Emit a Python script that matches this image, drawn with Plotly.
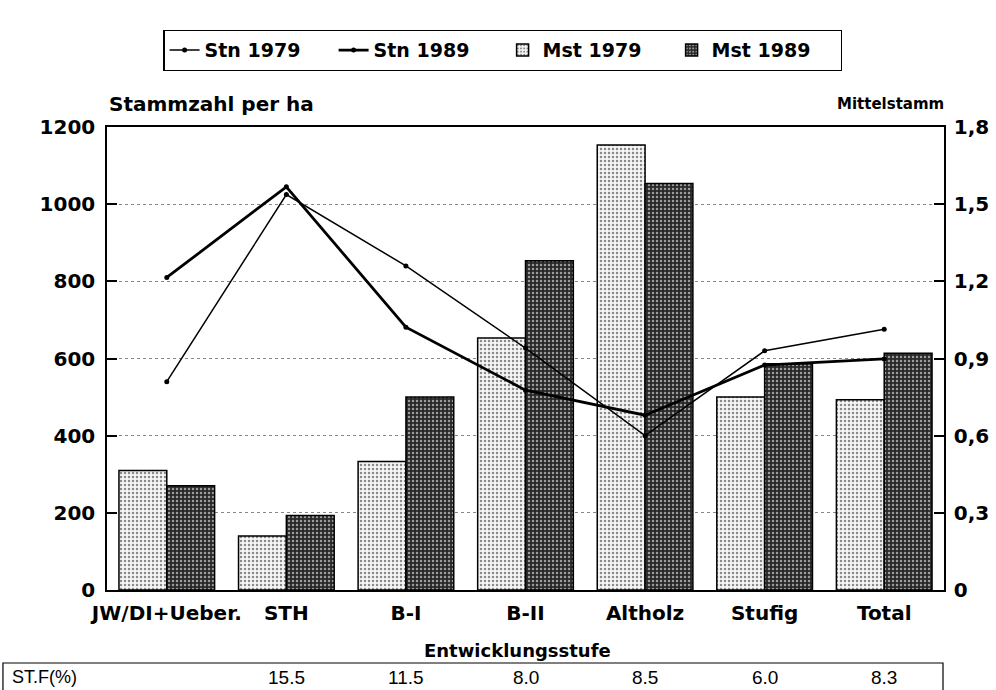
import plotly.graph_objects as go

categories = ["JW/DI+Ueber.", "STH", "B-I", "B-II", "Altholz", "Stufig", "Total"]
stn_1979 = [540, 1025, 840, 627, 400, 620, 676]
stn_1989 = [810, 1045, 681, 518, 453, 583, 599]
mst_1979 = [0.465, 0.21, 0.50, 0.98, 1.73, 0.75, 0.74]
mst_1989 = [0.405, 0.29, 0.75, 1.28, 1.58, 0.88, 0.92]
stf_pct = [None, 15.5, 11.5, 8.0, 8.5, 6.0, 8.3]

left_ticks = [0, 200, 400, 600, 800, 1000, 1200]
right_ticks = [0, 0.3, 0.6, 0.9, 1.2, 1.5, 1.8]
right_labels = ["0", "0,3", "0,6", "0,9", "1,2", "1,5", "1,8"]

BOLD = dict(family="DejaVu Sans", weight="bold", color="black")

fig = go.Figure()

fig.add_trace(go.Bar(
    x=categories, y=mst_1979, name="Mst 1979", yaxis="y", legendrank=3,
    marker=dict(color="#f2f2f2", line=dict(color="black", width=1.5),
                pattern=dict(shape=".", fillmode="replace", bgcolor="#f6f6f6",
                             fgcolor="#8a8a8a", size=4, solidity=0.3)),
))
fig.add_trace(go.Bar(
    x=categories, y=mst_1989, name="Mst 1989", yaxis="y", legendrank=4,
    marker=dict(color="#333", line=dict(color="black", width=1.5),
                pattern=dict(shape=".", fillmode="replace", bgcolor="#282828",
                             fgcolor="#9c9c9c", size=4, solidity=0.3)),
))
fig.add_trace(go.Scatter(
    x=categories, y=stn_1979, name="Stn 1979", yaxis="y2", legendrank=1,
    mode="lines+markers", line=dict(color="black", width=1.5),
    marker=dict(color="black", size=5),
))
fig.add_trace(go.Scatter(
    x=categories, y=stn_1989, name="Stn 1989", yaxis="y2", legendrank=2,
    mode="lines+markers", line=dict(color="black", width=2.8),
    marker=dict(color="black", size=5),
))

fig.update_layout(
    width=996, height=690,
    margin=dict(l=107, r=52, t=127, b=100),
    paper_bgcolor="white", plot_bgcolor="white",
    barmode="group", bargap=0.2, bargroupgap=0,
    font=dict(family="DejaVu Sans", color="black"),
    xaxis=dict(
        type="category", showline=True, linecolor="black", linewidth=1.5,
        mirror=True, ticks="", showgrid=False, automargin=False,
        tickfont=dict(size=20, **BOLD), ticklabelstandoff=4,
    ),
    yaxis=dict(
        side="right", range=[0, 1.8], tickvals=right_ticks, ticktext=right_labels,
        showline=True, linecolor="black", linewidth=1.5, automargin=False,
        ticks="inside", ticklen=10, tickwidth=1.5, tickcolor="black",
        showgrid=True, gridcolor="#888", griddash="dot", gridwidth=1,
        zeroline=False, tickfont=dict(size=20, **BOLD), ticklabelstandoff=4,
    ),
    yaxis2=dict(
        overlaying="y", side="left", range=[0, 1200], tickvals=left_ticks,
        showline=True, linecolor="black", linewidth=1.5, automargin=False,
        ticks="inside", ticklen=10, tickwidth=1.5, tickcolor="black",
        showgrid=False, zeroline=False,
        tickfont=dict(size=20, **BOLD), ticklabelstandoff=6,
    ),
    legend=dict(
        orientation="h", x=0.473, xanchor="center", y=1.2095, yanchor="top",
        bordercolor="black", borderwidth=1.2, bgcolor="white",
        font=dict(size=19, **BOLD), entrywidth=124, entrywidthmode="pixels",
    ),
    showlegend=True,
)

annotations = [
    dict(text="Stammzahl per ha", xref="paper", yref="paper", x=0, y=1.0497,
         xanchor="left", yanchor="middle", showarrow=False, font=dict(size=20, **BOLD)),
    dict(text="Mittelstamm", xref="paper", yref="paper", x=1.0024, y=1.0497,
         xanchor="right", yanchor="middle", showarrow=False, font=dict(size=15, **BOLD)),
    dict(text="Entwicklungsstufe", xref="paper", yref="paper", x=0.49, y=-0.1296,
         xanchor="center", yanchor="middle", showarrow=False, font=dict(size=18, **BOLD)),
    dict(text="ST.F(%)", xref="paper", yref="paper", x=-0.1159, y=-0.188,
         xanchor="left", yanchor="middle", showarrow=False,
         font=dict(family="Liberation Sans", size=18, color="black")),
]
for cat, v in zip(categories, stf_pct):
    if v is None:
        continue
    annotations.append(dict(
        text=f"{v:.1f}", xref="x", yref="paper", x=cat, y=-0.188,
        xanchor="center", yanchor="middle", showarrow=False,
        font=dict(family="Liberation Sans", size=19, color="black")))
fig.update_layout(annotations=annotations)

fig.add_shape(type="rect", xref="paper", yref="paper",
              x0=-0.1243, x1=0.9988, y0=-0.1577, y1=-0.26,
              line=dict(color="black", width=1.2), fillcolor="rgba(0,0,0,0)")

fig.write_html("out.html", config={"displayModeBar": False},
               post_script="document.body.style.margin='0';document.body.style.padding='0';")
